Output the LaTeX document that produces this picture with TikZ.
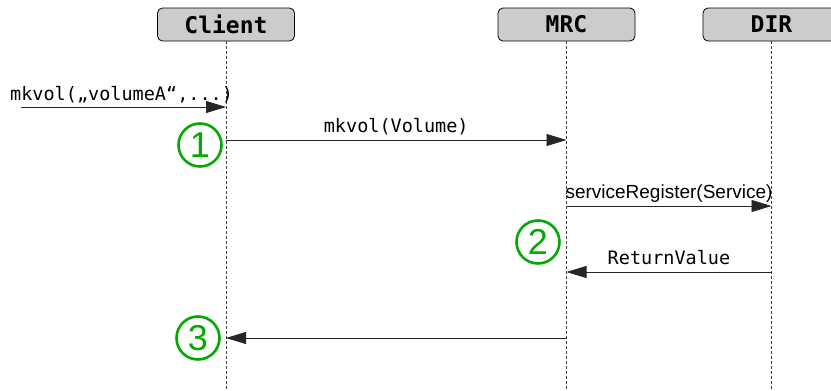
\documentclass[tikz,border=0pt]{standalone}
\usepackage{fontspec}
\setmainfont{Liberation Sans}
\newfontfamily\codefont{DejaVu Sans Mono}
\usepackage{tikz}
\usetikzlibrary{arrows.meta}
\definecolor{stepgreen}{RGB}{0,170,0}

\begin{document}
\begin{tikzpicture}[x=1pt,y=-1pt,>={Triangle[length=20pt,width=12pt]},
  head/.style={draw, rounded corners=5pt, fill=black!20, line width=0.8pt, minimum width=137pt, minimum height=33pt, font=\codefont\bfseries\fontsize{23}{25}\selectfont},
  life/.style={black!75, line width=0.8pt, dash pattern=on 3pt off 2pt},
  msg/.style={->, line width=0.9pt, black!85},
  lbl/.style={midway, anchor=base, yshift=7.5pt, inner sep=0pt, text=black, font=\codefont\fontsize{18.5}{20}\selectfont},
  numcircle/.style={circle, draw=stepgreen, text=stepgreen, line width=2.6pt, minimum size=43pt, inner sep=0pt, font=\fontsize{36}{36}\selectfont}]
  \useasboundingbox (0,0) rectangle (831,391);
  \clip (0,0) rectangle (831,391);

  \node[head] (client) at (226,24.5) {Client};
  \node[head] (mrc) at (566.5,24.5) {MRC};
  \node[head] (dir) at (771.5,24.5) {DIR};

  \coordinate (bottom) at (0,392);
  \coordinate (start) at (21,107);
  \coordinate (r2) at (0,140);
  \coordinate (r3) at (0,206);
  \coordinate (r4) at (0,272);
  \coordinate (r5) at (0,338);

  \draw[life] (client.south) -- (client.south |- bottom);
  \draw[life] (mrc.south) -- (mrc.south |- bottom);
  \draw[life] (dir.south) -- (dir.south |- bottom);

  \node[anchor=base west, inner sep=0pt, font=\codefont\fontsize{18.5}{20}\selectfont] (call) at (10,100) {mkvol(„volumeA“,...)};
  \draw[msg] (start) -- (client |- start);
  \draw[msg] (client |- r2) -- (mrc |- r2) node[lbl] {mkvol(Volume)};
  \draw[msg] (mrc |- r3) -- (dir |- r3) node[lbl, font=\fontsize{19}{21}\selectfont] {serviceRegister(Service)};
  \draw[msg] (dir |- r4) -- (mrc |- r4) node[lbl] {ReturnValue};
  \draw[msg] (mrc |- r5) -- (client |- r5);

  \node[numcircle] (one) at (200,145) {1};
  \node[numcircle] (two) at (538,242) {2};
  \node[numcircle] (three) at (198,338) {3};
\end{tikzpicture}
\end{document}
